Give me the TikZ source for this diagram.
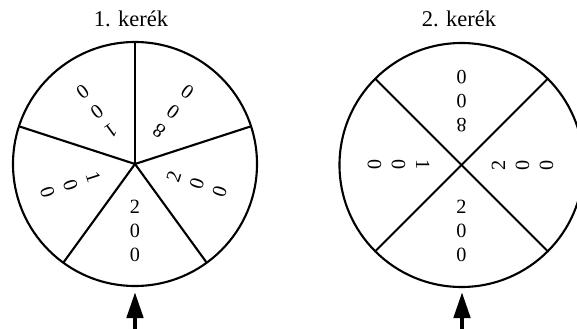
\documentclass[tikz,border=0pt]{standalone}
\usepackage{fontspec}
\setmainfont{Liberation Serif}
\usetikzlibrary{arrows.meta,calc}

\begin{document}
\begin{tikzpicture}[
  wheel/.style={draw, circle, line width=1.2pt, minimum size=4.88cm,
                inner sep=0pt, outer sep=0pt},
  spoke/.style={line width=1.2pt},
  num/.style={align=center, inner sep=0pt,
              font=\fontsize{11.5}{13.7}\selectfont},
  ttl/.style={anchor=base, font=\fontsize{12.8}{15}\selectfont},
  a/.style={-{Triangle[length=5.2mm, width=3.2mm]}, line width=2.6pt}
]
\useasboundingbox (0,0) rectangle (11.54,-6.58);

% ================= wheel 1: five sectors =================
\node[ttl] (t1) at (2.62,-0.54) {1. kerék};
\node[wheel] (w1) at (2.70,-3.28) {};
\foreach \ang in {90,18,-54,-126,162}
  \draw[spoke] (w1.center) -- (w1.\ang);

\node[num, rotate=144] (w1a) at ($(w1.center)+(54:1.30)$)   {8\\0\\0};
\node[num, rotate=72]  (w1b) at ($(w1.center)+(-18:1.30)$)  {2\\0\\0};
\node[num, rotate=0]   (w1c) at ($(w1.center)+(-90:1.34)$)  {2\\0\\0};
\node[num, rotate=-72] (w1d) at ($(w1.center)+(-162:1.36)$) {1\\0\\0};
\node[num, rotate=216] (w1e) at ($(w1.center)+(126:1.30)$)  {1\\0\\0};

% ================= wheel 2: four sectors =================
\node[ttl] (t2) at (9.18,-0.54) {2. kerék};
\node[wheel] (w2) at (9.23,-3.30) {};
\foreach \ang in {45,135,-135,-45}
  \draw[spoke] (w2.center) -- (w2.\ang);

\node[num, rotate=180] (w2a) at ($(w2.center)+(90:1.28)$)  {8\\0\\0};
\node[num, rotate=90]  (w2b) at ($(w2.center)+(0:1.22)$)   {2\\0\\0};
\node[num, rotate=0]   (w2c) at ($(w2.center)+(-90:1.32)$) {2\\0\\0};
\node[num, rotate=-90] (w2d) at ($(w2.center)+(180:1.26)$) {1\\0\\0};

% ================= pointers =================
\coordinate (p1) at (2.70,-6.58);
\coordinate (q1) at (2.70,-5.84);
\coordinate (p2) at (9.24,-6.58);
\coordinate (q2) at (9.24,-5.84);
\draw[a] (p1) -- (q1);
\draw[a] (p2) -- (q2);
\end{tikzpicture}
\end{document}
